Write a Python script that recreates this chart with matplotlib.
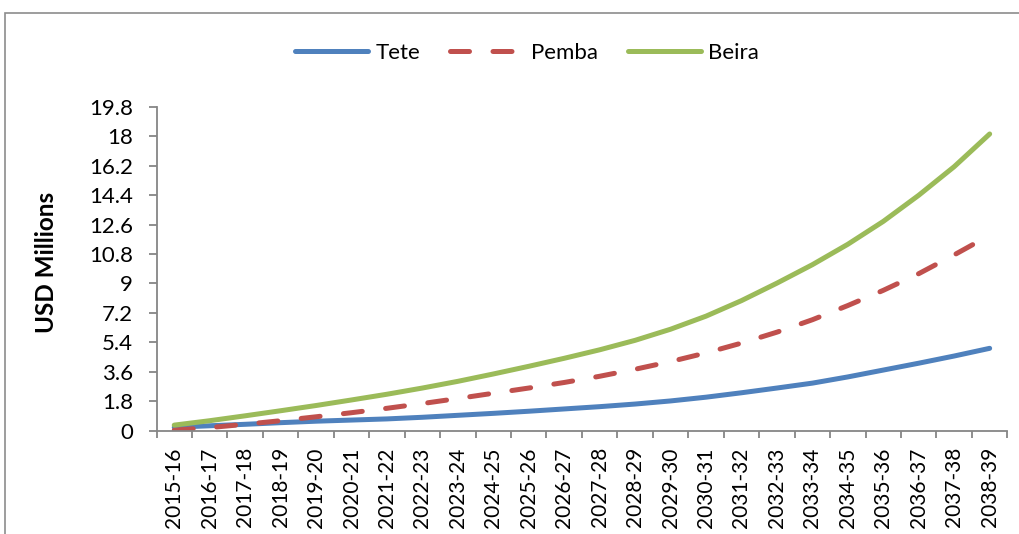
import numpy as np
import matplotlib
matplotlib.use("Agg")
import matplotlib.pyplot as plt
from matplotlib.patches import Rectangle

# Data (USD millions)
years = ["2015-16", "2016-17", "2017-18", "2018-19", "2019-20", "2020-21",
         "2021-22", "2022-23", "2023-24", "2024-25", "2025-26", "2026-27",
         "2027-28", "2028-29", "2029-30", "2030-31", "2031-32", "2032-33",
         "2033-34", "2034-35", "2035-36", "2036-37", "2037-38", "2038-39"]
tete = [0.20, 0.29, 0.38, 0.48, 0.57, 0.64, 0.71, 0.81, 0.93, 1.05, 1.18, 1.32,
        1.46, 1.62, 1.81, 2.04, 2.31, 2.60, 2.90, 3.28, 3.70, 4.12, 4.56, 5.03]
pemba = [0.02, 0.18, 0.38, 0.60, 0.84, 1.09, 1.36, 1.65, 1.96, 2.28, 2.60, 2.94,
         3.32, 3.75, 4.22, 4.75, 5.35, 6.02, 6.78, 7.65, 8.58, 9.60, 10.75, 11.95]
beira = [0.33, 0.60, 0.90, 1.21, 1.53, 1.87, 2.22, 2.60, 3.01, 3.46, 3.93, 4.42,
         4.94, 5.52, 6.20, 7.00, 7.95, 9.02, 10.15, 11.40, 12.80, 14.40, 16.15, 18.15]

plt.rcParams['font.family'] = ['Lato', 'DejaVu Sans']

fig = plt.figure(figsize=(10.19, 5.34), dpi=100)
ax = fig.add_axes([0.1536, 0.1938, 0.835, 0.6058])

# outer chart frame
fig.patches.append(Rectangle((5 / 1019, -0.2), 1.2, 1.2 - 13 / 534,
                             transform=fig.transFigure, fill=False,
                             edgecolor='#8c8c8c', linewidth=1.2))

x = np.arange(len(years))
ax.plot(x, tete, color='#4F81BD', lw=3.6, solid_capstyle='round', label='Tete')
ax.plot(x, pemba, color='#C0504D', lw=3.6, dashes=(3.8, 4.7),
        dash_capstyle='round', label='Pemba')
ax.plot(x, beira, color='#9BBB59', lw=3.6, solid_capstyle='round', label='Beira')

ax.set_xlim(-0.5, len(years) - 0.5)
ax.set_ylim(0, 19.8)

yt = np.round(np.arange(0, 19.81, 1.8), 1)
ax.set_yticks(yt)
ax.set_yticklabels([f"{v:g}" for v in yt])

ax.set_xticks(x)
ax.set_xticklabels(years, rotation=90)
ax.set_xticks(np.arange(-0.5, len(years)), minor=True)

for s in ['top', 'right']:
    ax.spines[s].set_visible(False)
for s in ['left', 'bottom']:
    ax.spines[s].set_color('#868686')
    ax.spines[s].set_linewidth(1.3)

ax.tick_params(axis='y', length=6, width=1.3, color='#868686', pad=11,
               labelsize=16, labelcolor='black')
ax.tick_params(axis='x', which='major', length=0, pad=12, labelsize=15)
ax.tick_params(axis='x', which='minor', length=5, width=1.3, color='#868686')

fig.text(46.5 / 1019, 0.509, 'USD Millions', rotation=90, ha='center',
         va='center', fontsize=17.5, fontweight='bold')

fig.legend(loc='center', bbox_to_anchor=(527 / 1019, 1 - 53 / 534), ncol=3,
           frameon=False, fontsize=16, handlelength=3.3, handletextpad=0.33,
           columnspacing=1.35)

fig.savefig('out.png', dpi=100)
